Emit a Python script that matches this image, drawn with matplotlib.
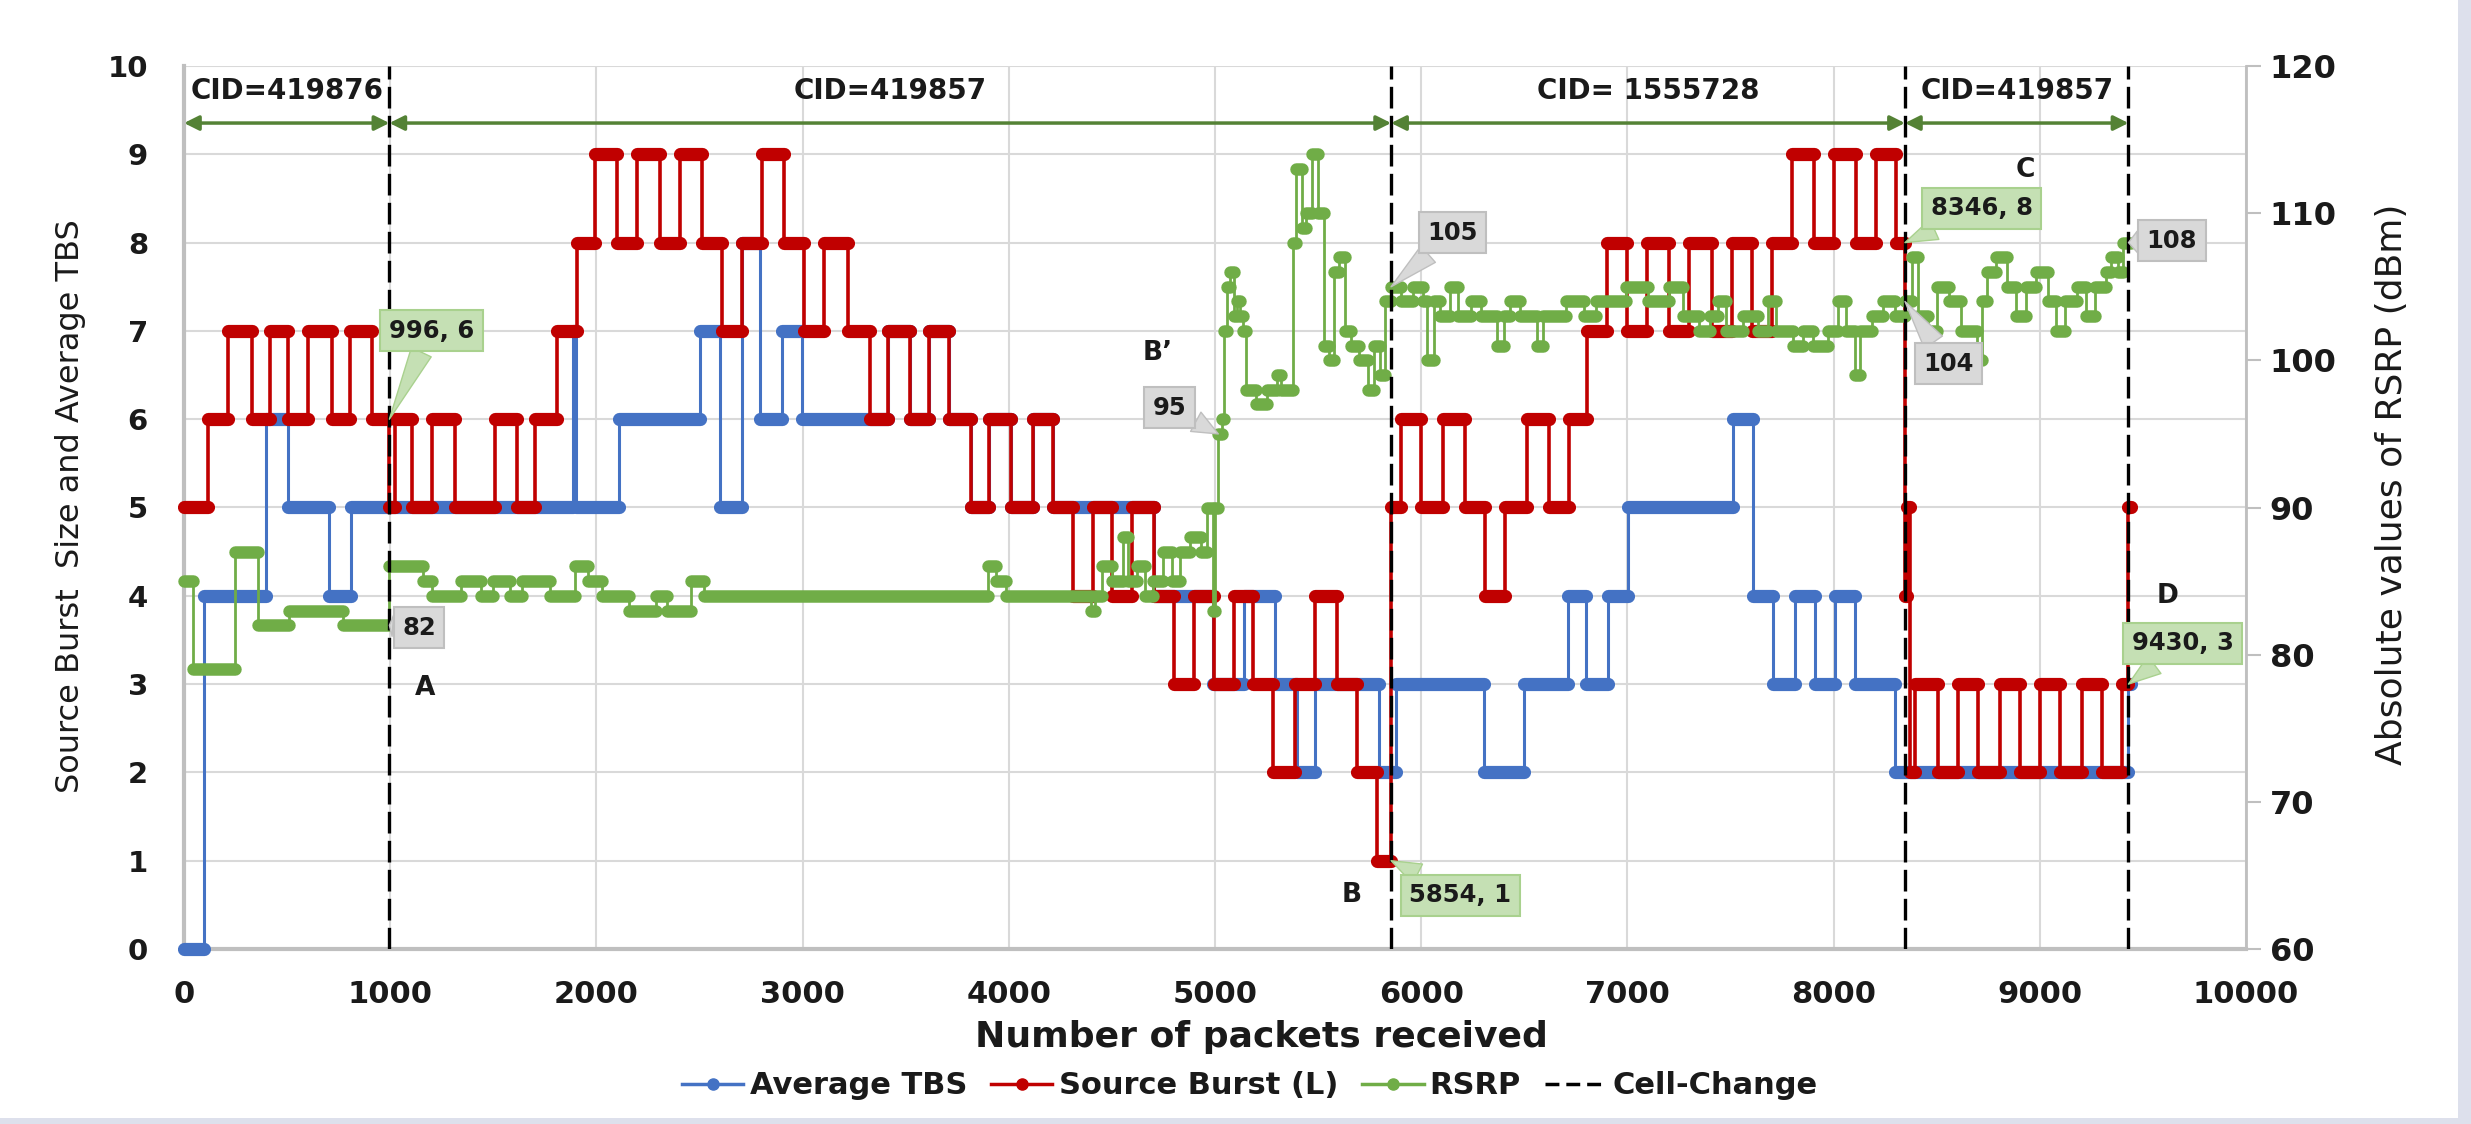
import matplotlib
matplotlib.use("Agg")
import matplotlib.pyplot as plt
from matplotlib.lines import Line2D
from matplotlib.patches import Rectangle

# ---------------- data (step-change points) ----------------
END_PACKET = 9440

tbs_x = [0, 97, 396, 503, 704, 808, 1885, 1900, 2110, 2501, 2598, 2706, 2793, 2900, 2998,
         3412, 3519, 3615, 3712, 3818, 3904, 4011, 4118,
         4214, 4705, 4990, 5140, 5293, 5400, 5485, 5795, 5880, 6303, 6497, 6713, 6799, 6907,
         7004, 7512, 7608, 7706, 7813, 7910, 8008, 8105, 8299, 9430]
tbs_y = [0, 4, 6, 5, 4, 5, 7, 5, 6, 7, 5, 8, 6, 7, 6,
         7, 6, 7, 6, 5, 6, 5, 6,
         5, 4, 3, 4, 3, 2, 3, 2, 3, 2, 3, 4, 3, 4,
         5, 6, 4, 3, 4, 3, 4, 3, 2, 3]

burst_x = [0, 114, 212, 330, 417, 503, 600, 719, 806, 914, 996, 1022, 1108, 1205, 1313, 1508,
           1616, 1702, 1810, 1907, 1994, 2102, 2199, 2307, 2404, 2512, 2609, 2706, 2803, 2911,
           3009, 3106, 3220, 3327, 3412, 3519, 3615, 3712, 3818, 3904, 4011, 4118, 4214, 4310,
           4406, 4502, 4598, 4705, 4801, 4897, 4994, 5090, 5186, 5282, 5389, 5485, 5592, 5688,
           5784, 5854, 5902, 6000, 6106, 6211, 6309, 6407, 6512, 6618, 6715, 6805, 6903, 7000,
           7097, 7204, 7301, 7409, 7505, 7602, 7699, 7796, 7903, 8000, 8108, 8204, 8301, 8346,
           8356, 8370, 8396, 8504, 8601, 8698, 8806, 8903, 9000, 9097, 9205, 9302, 9399, 9430]
burst_y = [5, 6, 7, 6, 7, 6, 7, 6, 7, 6, 5, 6, 5, 6, 5, 6,
           5, 6, 7, 8, 9, 8, 9, 8, 9, 8, 7, 8, 9, 8,
           7, 8, 7, 6, 7, 6, 7, 6, 5, 6, 5, 6, 5, 4,
           5, 4, 5, 4, 3, 4, 3, 4, 3, 2, 3, 4, 3, 2,
           1, 5, 6, 5, 6, 5, 4, 5, 6, 5, 6, 7, 8, 7,
           8, 7, 8, 7, 8, 7, 8, 9, 8, 9, 8, 9, 8, 4,
           5, 2, 3, 2, 3, 2, 3, 2, 3, 2, 3, 2, 3, 5]

rsrp_x = [0, 43, 249, 357, 509, 769, 996, 1159, 1203, 1343, 1441, 1500, 1582, 1640, 1777,
          1896, 1961, 2026, 2156, 2290, 2340, 2460, 2524, 3900, 3940, 3988, 4400, 4420, 4450,
          4500, 4555, 4580, 4620, 4660, 4700, 4750, 4790, 4830, 4880, 4930, 4960, 4990, 5000,
          5016, 5032, 5045, 5060, 5075, 5090, 5105, 5120, 5135, 5150, 5200, 5250, 5300, 5320,
          5380, 5395, 5420, 5440, 5470, 5500, 5530, 5555, 5575, 5600, 5630, 5660, 5700, 5740,
          5770, 5800, 5825, 5854, 5900, 5960, 6010, 6030, 6060, 6092, 6140, 6180, 6240, 6290,
          6369, 6400, 6429, 6480, 6561, 6590, 6700, 6790, 6850, 6995, 7100, 7200, 7272, 7345,
          7400, 7441, 7480, 7560, 7634, 7680, 7720, 7802, 7851, 7900, 7971, 8019, 8060, 8104,
          8130, 8188, 8240, 8300, 8346, 8380, 8410, 8460, 8500, 8560, 8620, 8694, 8720, 8742,
          8790, 8840, 8887, 8935, 8983, 9040, 9080, 9120, 9180, 9224, 9270, 9320, 9345, 9380,
          9405]
rsrp_y = [85, 79, 87, 82, 83, 82, 86, 85, 84, 85, 84, 85, 84, 85, 84,
          86, 85, 84, 83, 84, 83, 85, 84, 86, 85, 84, 83, 84, 86,
          85, 88, 85, 86, 84, 85, 87, 85, 87, 88, 87, 90, 83, 90,
          95, 96, 102, 105, 106, 103, 104, 103, 102, 98, 97, 98, 99, 98,
          108, 113, 109, 110, 114, 110, 101, 100, 106, 107, 102, 101, 100, 98,
          101, 99, 104, 105, 104, 105, 104, 100, 104, 103, 105, 103, 104, 103,
          101, 103, 104, 103, 101, 103, 104, 103, 104, 105, 104, 105, 103, 102,
          103, 104, 102, 103, 102, 104, 102, 101, 102, 101, 102, 104, 102, 99,
          102, 103, 104, 103, 104, 107, 103, 102, 105, 104, 102, 100, 104, 106,
          107, 105, 103, 105, 106, 104, 102, 104, 105, 103, 105, 106, 107, 106,
          108]

cell_changes = [996, 5854, 8346, 9430]
cid_labels = ["CID=419876", "CID=419857", "CID= 1555728", "CID=419857"]
cid_bounds = [0, 996, 5854, 8346, 9430]

x_ticks = list(range(0, 10001, 1000))
left_ticks = list(range(0, 11))
right_ticks = list(range(60, 121, 10))

assert len(tbs_x) == len(tbs_y)
assert len(burst_x) == len(burst_y)
assert len(rsrp_x) == len(rsrp_y)

# ---------------- style ----------------
C_BLUE = "#4472c4"
C_RED = "#c00000"
C_GREEN = "#70ad47"
C_ARROW = "#548235"
C_GRID = "#d9d9d9"
C_AXIS = "#bfbfbf"
C_TEXT = "#1a1a1a"
plt.rcParams["font.family"] = ["DejaVu Sans"]

W, H = 2471, 1124
fig = plt.figure(figsize=(W / 100, H / 100), dpi=100, facecolor="#dde0ec")
fig.patches.append(Rectangle((0, 6 / H), 2458 / W, 1, transform=fig.transFigure,
                             facecolor="white", edgecolor="none", zorder=-10))

ax = fig.add_axes([184 / W, (H - 949) / H, (2246 - 184) / W, (949 - 66) / H])
ax2 = ax.twinx()

ax.set_xlim(0, 10000)
ax.set_ylim(0, 10)
ax2.set_ylim(60, 120)


def draw_steps(axis, xs, ys, color, thin_lw, thick_lw, z):
    xe = list(xs) + [END_PACKET]
    ye = list(ys) + [ys[-1]]
    axis.step(xe, ye, where="post", color=color, lw=thin_lw, zorder=z, clip_on=False)
    axis.hlines(ys, xs, xe[1:], colors=color, lw=thick_lw, capstyle="round",
                zorder=z + 0.1, clip_on=False)


draw_steps(ax, tbs_x, tbs_y, C_BLUE, 2.2, 9.5, 3)
draw_steps(ax, burst_x, burst_y, C_RED, 2.6, 9.5, 4)
draw_steps(ax2, rsrp_x, rsrp_y, C_GREEN, 2.0, 9.0, 5)

# grid & axes
ax.set_xticks(x_ticks)
ax.set_yticks(left_ticks)
ax2.set_yticks(right_ticks)
ax.grid(True, color=C_GRID, lw=1.5)
ax.set_axisbelow(True)
for s in ["top", "right"]:
    ax.spines[s].set_visible(False)
for s in ["top", "left", "bottom"]:
    ax2.spines[s].set_visible(False)
ax.spines["left"].set_color(C_AXIS)
ax.spines["left"].set_linewidth(3)
ax.spines["bottom"].set_color(C_AXIS)
ax.spines["bottom"].set_linewidth(3)
ax2.spines["right"].set_color(C_AXIS)
ax2.spines["right"].set_linewidth(2)

ax.tick_params(axis="x", length=0, labelsize=22, pad=22, labelcolor=C_TEXT)
ax.tick_params(axis="y", length=0, labelsize=21, pad=26, labelcolor=C_TEXT)
ax2.tick_params(axis="y", length=11, width=1.5, color=C_AXIS, labelsize=23, pad=6,
                labelcolor=C_TEXT)
for lbl in ax.get_xticklabels() + ax.get_yticklabels() + ax2.get_yticklabels():
    lbl.set_fontweight("bold")

# cell change lines
for xc in cell_changes:
    ax2.plot([xc, xc], [60, 120], color="black", lw=2.4, ls=(0, (6.5, 2.2)), zorder=7)

# CID spans
arrow_y = 9.354
for i, lab in enumerate(cid_labels):
    x0, x1 = cid_bounds[i], cid_bounds[i + 1]
    ax2.annotate("", xy=(x1, arrow_y), xytext=(x0, arrow_y), xycoords=ax.transData,
                 textcoords=ax.transData,
                 arrowprops=dict(arrowstyle="<|-|>", color=C_ARROW, lw=2.5,
                                 mutation_scale=22, shrinkA=0, shrinkB=0), zorder=8)
    ax2.text((x0 + x1) / 2, 60 + 9.72 * 6, lab, ha="center", va="center", fontsize=20,
             fontweight="bold", color=C_TEXT, zorder=8)

GREEN_BOX = ("#c5e0b4", "#a9d18e")
GREY_BOX = ("#d9d9d9", "#bfbfbf")


def callout(text, xy, xy_on_right, txt_pos, colors):
    fc, ec = colors
    ax2.annotate(text, xy=xy, xycoords=(ax2.transData if xy_on_right else ax.transData),
                 xytext=txt_pos, textcoords=ax.transData, ha="center", va="center",
                 fontsize=17.5, fontweight="bold", color=C_TEXT, zorder=9,
                 bbox=dict(boxstyle="square,pad=0.35", fc=fc, ec=ec, lw=1.5),
                 arrowprops=dict(arrowstyle="wedge,tail_width=0.9,shrink_factor=0.5",
                                 fc=fc, ec=ec, lw=1.0, shrinkA=0, shrinkB=0))


callout("996, 6", (996, 6), False, (1200, 7.0), GREEN_BOX)
callout("82", (996, 82), True, (1140, 3.64), GREY_BOX)
callout("95", (5016, 95), True, (4780, 6.13), GREY_BOX)
callout("105", (5854, 105), True, (6151, 8.11), GREY_BOX)
callout("5854, 1", (5854, 1), False, (6190, 0.61), GREEN_BOX)
callout("8346, 8", (8346, 8), False, (8719, 8.39), GREEN_BOX)
callout("104", (8346, 104), True, (8556, 6.63), GREY_BOX)
callout("108", (9430, 108), True, (9641, 8.02), GREY_BOX)
callout("9430, 3", (9430, 3), False, (9694, 3.46), GREEN_BOX)

for txt, (px, py) in [("A", (1170, 2.96)), ("B\u2019", (4720, 6.75)), ("B", (5665, 0.61)),
                      ("C", (8929, 8.82)), ("D", (9618, 4.0))]:
    ax2.text(px, 60 + py * 6, txt, ha="center", va="center", fontsize=19,
             fontweight="bold", color=C_TEXT, zorder=9)

# axis titles
fig.text(71 / W, 1 - 506 / H, "Source Burst  Size and Average TBS", rotation=90,
         ha="center", va="center", fontsize=23, color=C_TEXT)
fig.text(2392 / W, 1 - 484 / H, "Absolute values of RSRP (dBm)", rotation=90,
         ha="center", va="center", fontsize=26, color=C_TEXT)
fig.text(1261 / W, 1 - 1037 / H, "Number of packets received", ha="center", va="center",
         fontsize=26, fontweight="bold", color=C_TEXT)

# legend
handles = [
    Line2D([0], [0], color=C_BLUE, lw=2.5, marker="o", ms=8),
    Line2D([0], [0], color=C_RED, lw=2.5, marker="o", ms=8),
    Line2D([0], [0], color=C_GREEN, lw=2.5, marker="o", ms=8),
    Line2D([0], [0], color="black", lw=2.5, ls=(0, (4, 2))),
]
labels = ["Average TBS", "Source Burst (L)", "RSRP", "Cell-Change"]
fig.legend(handles, labels, loc="center", bbox_to_anchor=(1250 / W, 1 - 1086 / H), ncol=4,
           frameon=False, handlelength=2.0, handletextpad=0.2, columnspacing=0.8,
           prop=dict(size=22, weight="bold"), labelcolor=C_TEXT)

fig.savefig("out.png", dpi=100, facecolor=fig.get_facecolor())
